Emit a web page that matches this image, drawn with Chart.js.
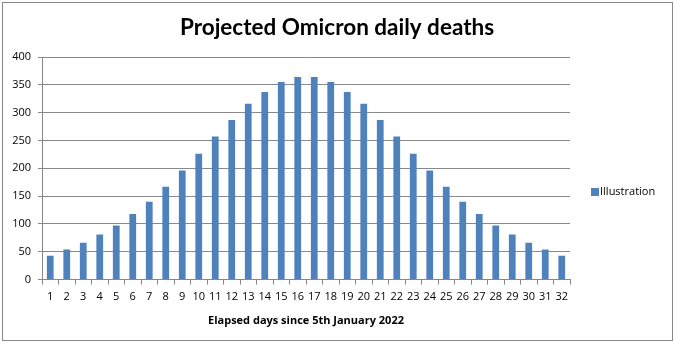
<!DOCTYPE html>
<html>
<head>
<meta charset="utf-8">
<script src="https://cdn.jsdelivr.net/npm/chart.js@4/dist/chart.umd.min.js"></script>
<style>
  html, body { margin: 0; padding: 0; background: #fff; }
  #wrap { width: 675px; height: 343px; }
</style>
</head>
<body>
<div id="wrap"><canvas id="c" width="675" height="343"></canvas></div>
<script>
// Elapsed day numbers
const days = [1,2,3,4,5,6,7,8,9,10,11,12,13,14,15,16,17,18,19,20,21,22,23,24,25,26,27,28,29,30,31,32];
// Projected daily deaths per day
const deaths = [43,54,66,81,97,118,140,167,196,226,257,287,316,337,355,364,
                364,355,337,316,287,257,226,196,167,140,118,97,81,66,54,43];
const seriesName = 'Illustration';
const chartTitle = 'Projected Omicron daily deaths';
const xTitle = 'Elapsed days since 5th January 2022';

const labelFont = { family: 'Open Sans', size: 11 };

// Frame, centred title and a legend entry to the right of the plot
const framePlugin = {
  id: 'frame',
  beforeDraw(chart) {
    const ctx = chart.ctx;
    ctx.save();
    ctx.fillStyle = '#fff';
    ctx.fillRect(0, 0, chart.width, chart.height);
    ctx.strokeStyle = '#888';
    ctx.lineWidth = 1;
    ctx.strokeRect(2.5, 2.5, 670, 338);
    ctx.restore();
  },
  afterDraw(chart) {
    const ctx = chart.ctx;
    const ds = chart.data.datasets[0];
    ctx.save();
    ctx.fillStyle = '#000';
    ctx.font = 'bold 22.5px Lato';
    ctx.textAlign = 'center';
    ctx.textBaseline = 'middle';
    ctx.fillText(chartTitle, 337, 28);

    const legendY = 192;
    ctx.fillStyle = ds.backgroundColor;
    ctx.fillRect(591, legendY - 4, 8, 8);
    ctx.fillStyle = '#000';
    ctx.font = '11px "Open Sans"';
    ctx.textAlign = 'left';
    ctx.fillText(ds.label, 600, legendY);
    ctx.restore();
  }
};

new Chart(document.getElementById('c'), {
  type: 'bar',
  data: {
    labels: days,
    datasets: [{
      label: seriesName,
      data: deaths,
      backgroundColor: '#4F81BD',
      categoryPercentage: 1,
      barPercentage: 0.41
    }]
  },
  options: {
    responsive: false,
    animation: false,
    layout: { padding: { left: 0, right: 105, top: 57, bottom: 16 } },
    plugins: {
      legend: { display: false },
      tooltip: { enabled: false },
      title: { display: false }
    },
    scales: {
      x: {
        grid: { display: true, drawOnChartArea: false, drawTicks: true, tickLength: 5, color: '#888', offset: true },
        border: { color: '#888' },
        ticks: { color: '#000', font: labelFont, maxRotation: 0, autoSkip: false, padding: 6 },
        title: {
          display: true,
          text: xTitle,
          color: '#000',
          font: { family: 'Open Sans', size: 11, weight: 'bold' },
          padding: { top: 4, bottom: 0 }
        }
      },
      y: {
        min: 0,
        max: 400,
        ticks: { stepSize: 50, color: '#000', font: labelFont, padding: 7 },
        grid: { color: '#888', tickLength: 4 },
        border: { color: '#888' },
        afterFit(scale) { scale.width = 42; }
      }
    }
  },
  plugins: [framePlugin]
});
</script>
</body>
</html>
